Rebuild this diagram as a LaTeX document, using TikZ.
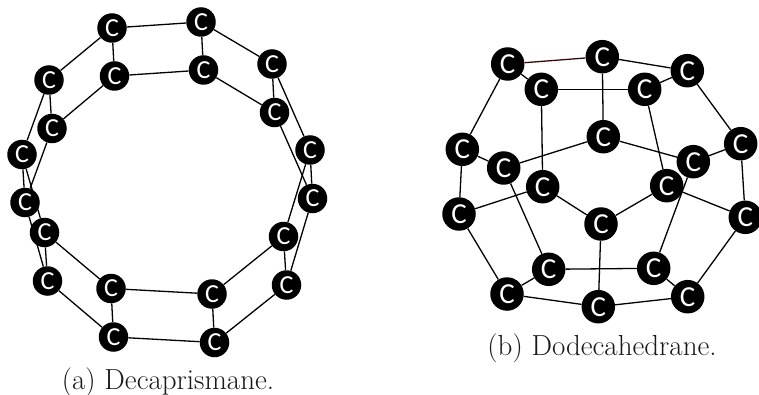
\documentclass[tikz,border=0pt]{standalone}
\usepackage{fontspec}
\newfontfamily\atomfont{Carlito}
\definecolor{darkbond}{RGB}{50,10,10}
\tikzset{
	carbon/.style={circle, fill=black, draw=none, minimum size=29.5pt, inner sep=0pt, text=white, font=\atomfont\fontsize{26}{26}\selectfont},
	bigcarbon/.style={carbon, minimum size=33.5pt, font=\atomfont\fontsize{29}{29}\selectfont},
	bond/.style={draw=black, line width=1.3pt},
	subcap/.style={font=\fontsize{29}{31}\selectfont, text=black!90}
}

\begin{document}
\begin{tikzpicture}[x=1pt, y=-1pt]
	\useasboundingbox (0,0) rectangle (759,395);
	% first ring
	\node[carbon] (a1) at (49,80) {C};
	\node[carbon] (a2) at (112,28) {C};
	\node[carbon] (a3) at (201,22) {C};
	\node[carbon] (a4) at (272,64) {C};
	\node[carbon] (a5) at (310,150) {C};
	\node[carbon] (a6) at (283.5,236.5) {C};
	\node[carbon] (a7) at (212,294) {C};
	\node[carbon] (a8) at (111,288.5) {C};
	\node[carbon] (a9) at (44.5,232.5) {C};
	\node[carbon] (a10) at (22,154.5) {C};
	% second ring
	\node[carbon] (b1) at (52,128.5) {C};
	\node[carbon] (b2) at (114.5,76) {C};
	\node[carbon] (b3) at (203.5,70) {C};
	\node[carbon] (b4) at (274.5,112.5) {C};
	\node[carbon] (b5) at (312.5,198.5) {C};
	\node[carbon] (b6) at (286.5,285) {C};
	\node[carbon] (b7) at (214.5,342.5) {C};
	\node[carbon] (b8) at (113.5,337) {C};
	\node[carbon] (b9) at (47.5,281) {C};
	\node[carbon] (b10) at (25,202.5) {C};
	\draw[bond] (a1) -- (a2);
	\draw[bond] (a2) -- (a3);
	\draw[bond] (a3) -- (a4);
	\draw[bond] (a4) -- (a5);
	\draw[bond] (a5) -- (a6);
	\draw[bond] (a6) -- (a7);
	\draw[bond] (a7) -- (a8);
	\draw[bond] (a8) -- (a9);
	\draw[bond] (a9) -- (a10);
	\draw[bond] (a10) -- (a1);
	\draw[bond] (b1) -- (b2);
	\draw[bond] (b2) -- (b3);
	\draw[bond] (b3) -- (b4);
	\draw[bond] (b4) -- (b5);
	\draw[bond] (b5) -- (b6);
	\draw[bond] (b6) -- (b7);
	\draw[bond] (b7) -- (b8);
	\draw[bond] (b8) -- (b9);
	\draw[bond] (b9) -- (b10);
	\draw[bond] (b10) -- (b1);
	\draw[bond] (a1) -- (b1);
	\draw[bond] (a2) -- (b2);
	\draw[bond] (a3) -- (b3);
	\draw[bond] (a4) -- (b4);
	\draw[bond] (a5) -- (b5);
	\draw[bond] (a6) -- (b6);
	\draw[bond] (a7) -- (b7);
	\draw[bond] (a8) -- (b8);
	\draw[bond] (a9) -- (b9);
	\draw[bond] (a10) -- (b10);
	\node[subcap] (capa) at (168,382) {(a) Decaprismane.};
	% dodecahedron
	\node[bigcarbon] (d1) at (507.7,64) {C};
	\node[bigcarbon] (d2) at (602.3,56.7) {C};
	\node[bigcarbon] (d3) at (687.3,70.7) {C};
	\node[bigcarbon] (d4) at (541.3,89.3) {C};
	\node[bigcarbon] (d5) at (644.7,89.3) {C};
	\node[bigcarbon] (d6) at (462.3,149.3) {C};
	\node[bigcarbon] (d7) at (503.7,168) {C};
	\node[bigcarbon] (d8) at (603.3,136.7) {C};
	\node[bigcarbon] (d9) at (693.3,161.7) {C};
	\node[bigcarbon] (d10) at (740.7,143.7) {C};
	\node[bigcarbon] (d11) at (542.7,186.7) {C};
	\node[bigcarbon] (d12) at (666.7,185.7) {C};
	\node[bigcarbon] (d13) at (459,214) {C};
	\node[bigcarbon] (d14) at (601,224) {C};
	\node[bigcarbon] (d15) at (745.3,217.3) {C};
	\node[bigcarbon] (d16) at (548.7,269.3) {C};
	\node[bigcarbon] (d17) at (653.7,268.3) {C};
	\node[bigcarbon] (d18) at (507,294) {C};
	\node[bigcarbon] (d19) at (598.3,306.7) {C};
	\node[bigcarbon] (d20) at (687.7,296.7) {C};
	\draw[bond, draw=darkbond] (d1) -- (d2);
	\draw[bond] (d2) -- (d3);
	\draw[bond] (d1) -- (d4);
	\draw[bond] (d3) -- (d5);
	\draw[bond] (d4) -- (d5);
	\draw[bond] (d2) -- (d8);
	\draw[bond] (d4) -- (d11);
	\draw[bond] (d5) -- (d12);
	\draw[bond] (d1) -- (d6);
	\draw[bond] (d3) -- (d10);
	\draw[bond] (d6) -- (d7);
	\draw[bond] (d6) -- (d13);
	\draw[bond] (d7) -- (d8);
	\draw[bond] (d8) -- (d9);
	\draw[bond] (d9) -- (d10);
	\draw[bond] (d10) -- (d15);
	\draw[bond] (d11) -- (d13);
	\draw[bond] (d11) -- (d14);
	\draw[bond] (d12) -- (d14);
	\draw[bond] (d12) -- (d15);
	\draw[bond] (d7) -- (d16);
	\draw[bond] (d9) -- (d17);
	\draw[bond] (d13) -- (d18);
	\draw[bond] (d15) -- (d20);
	\draw[bond] (d14) -- (d19);
	\draw[bond] (d16) -- (d17);
	\draw[bond] (d16) -- (d18);
	\draw[bond] (d17) -- (d20);
	\draw[bond] (d18) -- (d19);
	\draw[bond] (d19) -- (d20);
	\node[subcap] (capb) at (602,348) {(b) Dodecahedrane.};
\end{tikzpicture}
\end{document}
